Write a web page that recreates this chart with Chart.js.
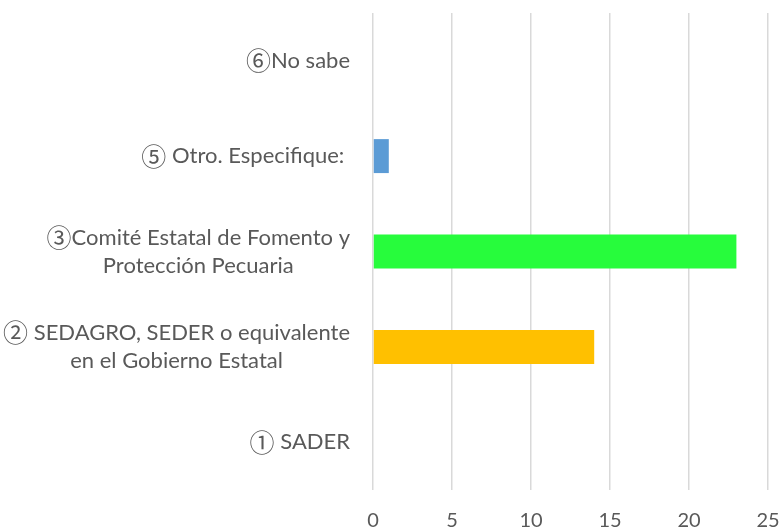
<!DOCTYPE html>
<html>
<head>
<meta charset="utf-8">
<script src="https://cdn.jsdelivr.net/npm/chart.js@4/dist/chart.umd.min.js"></script>
<style>
  html, body { margin: 0; padding: 0; background: #fff; }
  #wrap { width: 780px; height: 530px; position: relative; }
</style>
</head>
<body>
<div id="wrap"><canvas id="chart"></canvas></div>
<script>
// categories from top to bottom
var categories = [
    ["⑥No sabe"],
    ["⑤ Otro. Especifique: "],
    ["③Comité Estatal de Fomento y", "Protección Pecuaria"],
    ["② SEDAGRO, SEDER o equivalente", "en el Gobierno Estatal"],
    ["① SADER"]
];
var values = [0, 1, 23, 14, 0];
var barColors = ["#5B9BD5", "#5B9BD5", "#27FC3C", "#FFC000", "#5B9BD5"];
var xTicks = [0, 5, 10, 15, 20, 25];

var FONT = "Lato, 'Noto Sans', sans-serif";
var TEXT_FONT = "22px " + FONT;
var CIRCLE_FONT = "25px 'Noto Sans CJK JP', 'DejaVu Sans', sans-serif";
var TEXT_COLOR = "#595959";

// split a line so that a leading circled number gets its own, bigger font
function segments(line) {
    var first = line.charAt(0);
    if (/[\u2460-\u2473]/.test(first)) {
        return [{ text: first, font: CIRCLE_FONT }, { text: line.slice(1), font: TEXT_FONT }];
    }
    return [{ text: line, font: TEXT_FONT }];
}

function lineWidth(ctx, segs) {
    var w = 0;
    segs.forEach(function (s) {
        ctx.font = s.font;
        w += ctx.measureText(s.text).width;
    });
    return w;
}

// draws the category labels: block right aligned, lines centred inside the block
var labelPlugin = {
    id: "labelPlugin",
    afterDraw: function (chart) {
        var ctx = chart.ctx;
        var yScale = chart.scales.y;
        var rightEdge = chart.chartArea.left - 23;
        var lh = 28;
        ctx.save();
        ctx.fillStyle = TEXT_COLOR;
        ctx.textBaseline = "middle";
        ctx.textAlign = "left";
        categories.forEach(function (lines, i) {
            var segLines = lines.map(segments);
            var widths = segLines.map(function (s) { return lineWidth(ctx, s); });
            var widest = Math.max.apply(null, widths);
            var cx = rightEdge - widest / 2;
            var cy = yScale.getPixelForValue(i);
            var startY = cy - (lines.length - 1) * lh / 2;
            segLines.forEach(function (segs, j) {
                var x = cx - widths[j] / 2;
                segs.forEach(function (s) {
                    ctx.font = s.font;
                    ctx.fillText(s.text, x, startY + j * lh);
                    x += ctx.measureText(s.text).width;
                });
            });
        });
        ctx.restore();
    }
};

var ctx = document.getElementById("chart").getContext("2d");
var chart = new Chart(ctx, {
    type: "bar",
    data: {
        labels: categories,
        datasets: [{
            data: values,
            backgroundColor: barColors,
            borderWidth: 0,
            barPercentage: 0.356,
            categoryPercentage: 1
        }]
    },
    options: {
        indexAxis: "y",
        responsive: true,
        maintainAspectRatio: false,
        animation: false,
        layout: { padding: { top: 13, right: 12, left: 0, bottom: 0 } },
        plugins: {
            legend: { display: false },
            tooltip: { enabled: false }
        },
        scales: {
            x: {
                min: 0,
                max: 25,
                afterBuildTicks: function (scale) {
                    scale.ticks = xTicks.map(function (v) { return { value: v }; });
                },
                afterFit: function (scale) {
                    scale.height = 40;
                    scale.paddingLeft = 0;
                    scale.paddingRight = 0;
                },
                grid: { color: "#D9D9D9", lineWidth: 1.5, drawTicks: false },
                border: { display: false },
                ticks: {
                    padding: 19,
                    color: TEXT_COLOR,
                    font: { family: FONT, size: 20 },
                    maxRotation: 0
                }
            },
            y: {
                afterFit: function (scale) { scale.width = 373; },
                grid: { display: false },
                border: { display: false },
                ticks: { display: false }
            }
        }
    },
    plugins: [labelPlugin]
});
</script>
</body>
</html>
